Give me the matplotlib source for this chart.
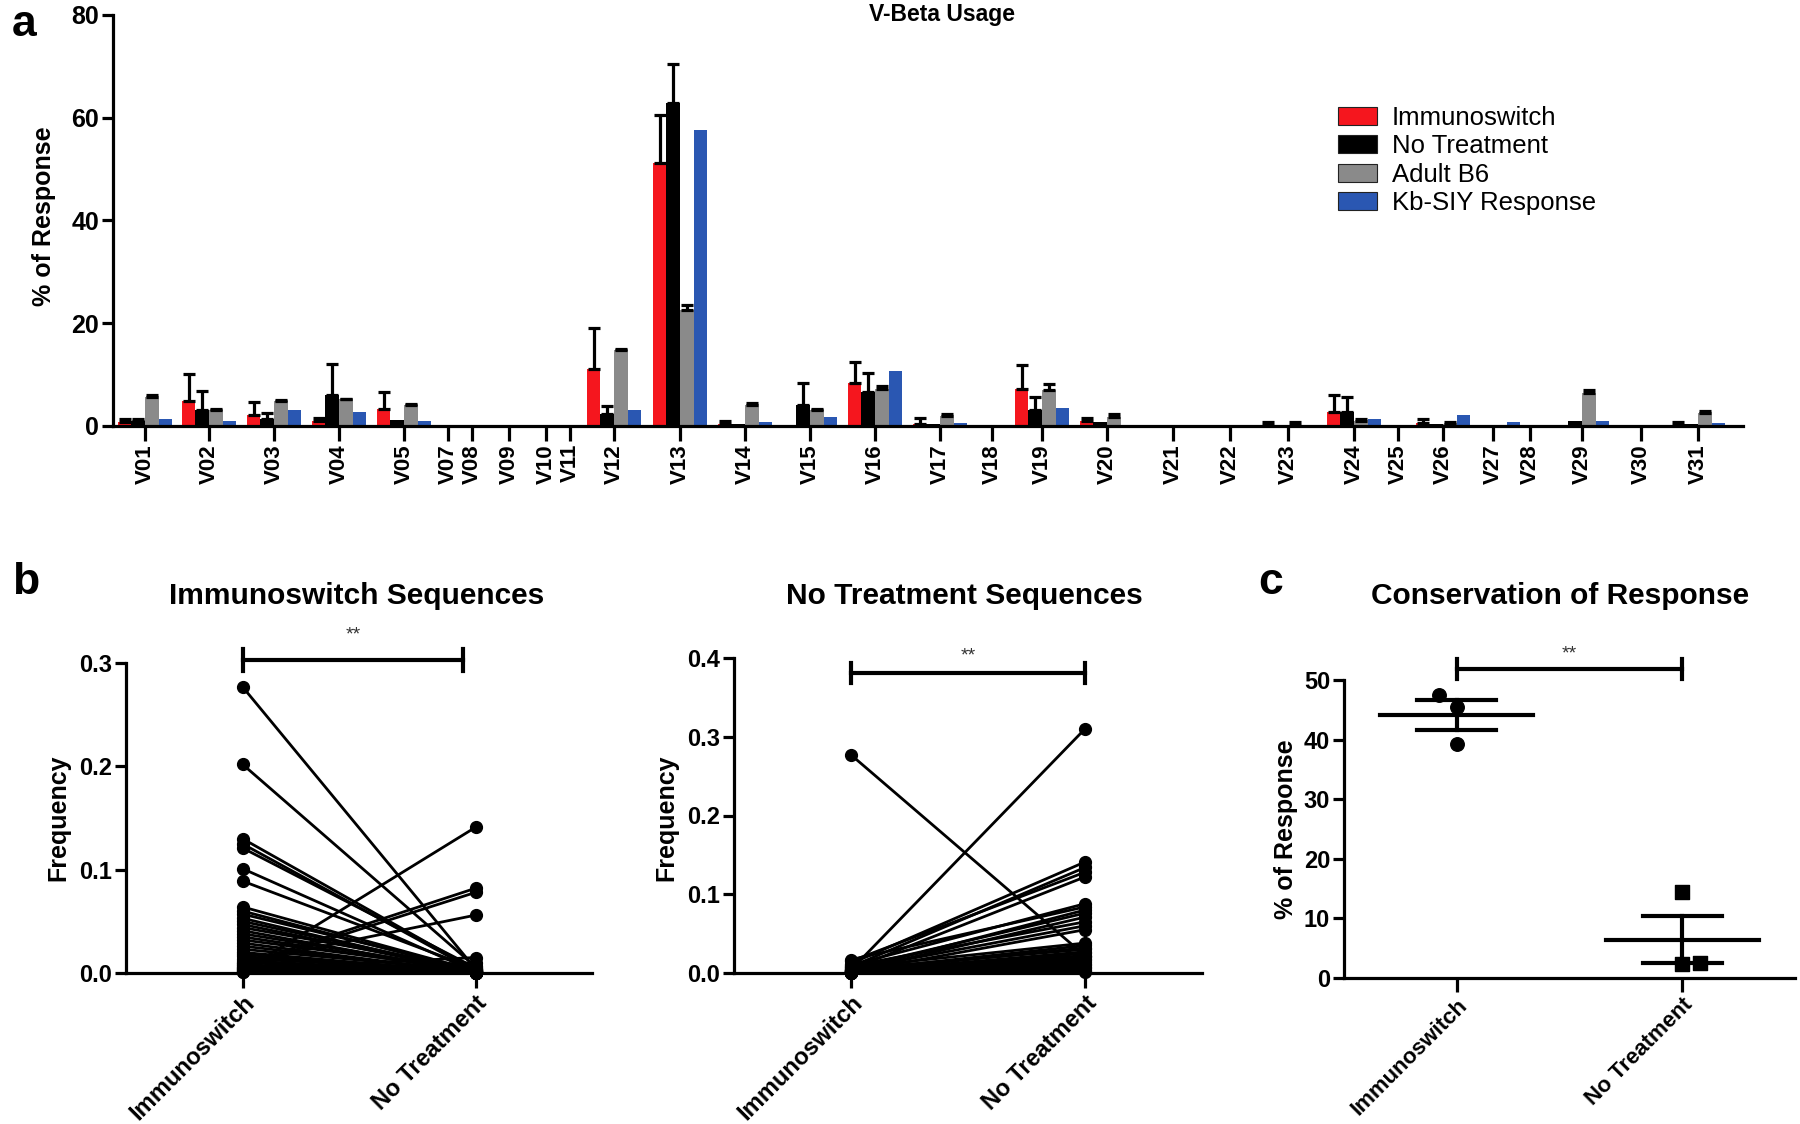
import numpy as np
import matplotlib
matplotlib.use('Agg')
import matplotlib.pyplot as plt
from matplotlib.patches import Patch

plt.rcParams['font.family'] = ['Liberation Sans', 'DejaVu Sans']

# ---------------- panel a: V-beta usage (% of response) ----------------
vbeta_labels = ['V01', 'V02', 'V03', 'V04', 'V05', 'V07', 'V08', 'V09', 'V10', 'V11',
                'V12', 'V13', 'V14', 'V15', 'V16', 'V17', 'V18', 'V19', 'V20', 'V21',
                'V22', 'V23', 'V24', 'V25', 'V26', 'V27', 'V28', 'V29', 'V30', 'V31']
immunoswitch = [0.7, 4.9, 2.1, 0.9, 3.4, 0, 0, 0, 0, 0,
                11.1, 51.2, 0.3, 0, 8.4, 0.3, 0, 7.2, 1.0, 0,
                0, 0.2, 2.8, 0, 0.5, 0, 0, 0, 0, 0.2]
immunoswitch_err = [0.6, 5.2, 2.5, 0.6, 3.2, 0, 0, 0, 0, 0,
                    7.9, 9.3, 0.6, 0, 4.0, 1.2, 0, 4.7, 0.5, 0,
                    0, 0.6, 3.2, 0, 0.9, 0, 0, 0, 0, 0.5]
no_treatment = [1.0, 3.1, 1.3, 6.0, 1.2, 0, 0, 0, 0, 0,
                2.3, 62.9, 0.3, 4.0, 6.7, 0.45, 0, 3.1, 0.8, 0,
                0, 0.2, 2.8, 0, 0.3, 0, 0, 1.0, 0, 0.3]
no_treatment_err = [0.3, 3.7, 1.3, 6.0, 0, 0, 0, 0, 0, 0,
                    1.5, 7.6, 0, 4.3, 3.7, 0, 0, 2.5, 0, 0,
                    0, 0, 2.9, 0, 0, 0, 0, 0, 0, 0]
adult_b6 = [5.7, 3.1, 4.9, 5.2, 4.1, 0, 0, 0, 0, 0,
            14.8, 22.5, 4.1, 3.2, 7.2, 1.9, 0, 7.1, 1.8, 0,
            0, 0.2, 1.0, 0, 0.3, 0, 0, 6.4, 0, 2.6]
adult_b6_err = [0.3, 0.2, 0.1, 0.1, 0.2, 0, 0, 0, 0, 0,
                0.1, 1.0, 0.3, 0.2, 0.5, 0.4, 0, 1.0, 0.5, 0,
                0, 0.5, 0.3, 0, 0.5, 0, 0, 0.7, 0, 0.4]
kb_siy = [1.3, 0.9, 3.2, 2.8, 1.0, 0, 0, 0, 0, 0,
          3.2, 57.7, 0.7, 1.8, 10.7, 0.65, 0, 3.6, 0, 0,
          0, 0, 1.3, 0, 2.1, 0.8, 0, 1.0, 0, 0.5]
series_names = ['Immunoswitch', 'No Treatment', 'Adult B6', 'Kb-SIY Response']

# ---------------- panel b: paired sequence frequencies ----------------
# Immunoswitch sequences: (frequency in Immunoswitch, frequency in No Treatment)
imm_seq_imm = [0.277, 0.202, 0.130, 0.125, 0.121, 0.101, 0.089, 0.064, 0.060, 0.057,
               0.053, 0.050, 0.047, 0.044, 0.041, 0.038, 0.035, 0.032, 0.029, 0.026,
               0.023, 0.020, 0.018, 0.016, 0.014, 0.012, 0.010, 0.008, 0.006, 0.004,
               0.003, 0.002, 0.001, 0.002, 0.008, 0.006, 0.010, 0.004, 0.001, 0.005]
imm_seq_nt = [0.004, 0.006, 0.003, 0.002, 0.005, 0.001, 0.004, 0.002, 0.001, 0.003,
              0.000, 0.002, 0.001, 0.004, 0.000, 0.002, 0.001, 0.003, 0.000, 0.001,
              0.002, 0.000, 0.001, 0.000, 0.002, 0.000, 0.001, 0.000, 0.000, 0.001,
              0.000, 0.000, 0.000, 0.141, 0.082, 0.078, 0.056, 0.015, 0.010, 0.007]
# No Treatment sequences
nt_seq_imm = [0.277, 0.004, 0.012, 0.008, 0.015, 0.005, 0.010, 0.017, 0.003, 0.006,
              0.002, 0.009, 0.004, 0.001, 0.007, 0.003, 0.002, 0.005, 0.001, 0.000,
              0.004, 0.002, 0.000, 0.003, 0.001, 0.000, 0.002, 0.000, 0.001, 0.000,
              0.000, 0.001]
nt_seq_nt = [0.022, 0.310, 0.141, 0.134, 0.128, 0.122, 0.088, 0.084, 0.080, 0.076,
             0.071, 0.065, 0.060, 0.055, 0.038, 0.035, 0.032, 0.030, 0.027, 0.025,
             0.022, 0.020, 0.018, 0.016, 0.014, 0.012, 0.010, 0.008, 0.006, 0.004,
             0.002, 0.001]
pair_labels = ['Immunoswitch', 'No Treatment']

# ---------------- panel c: conservation of response ----------------
cons_immunoswitch = [47.5, 45.5, 39.2]
cons_no_treatment = [14.4, 2.3, 2.6]
cons_jitter_imm = [-0.08, 0.0, 0.0]
cons_jitter_nt = [0.0, 0.0, 0.08]

# ---------------- layout ----------------
W, H = 1800, 1124
colors = ['#f5161e', '#000000', '#8a8a8a', '#2a57b2']
LW = 2.3
# group centres on panel a's x axis (irregular spacing as in the original)
group_x = [145, 209, 274, 339, 404, 448, 472, 509, 546, 570,
           614, 680, 745, 810, 875, 940, 992, 1042, 1107, 1173,
           1230, 1288, 1354, 1398, 1443, 1493, 1530, 1582, 1641, 1698]
bar_w = 13.6


def fig_rect(left, top, right, bottom):
    return [left / W, 1 - bottom / H, (right - left) / W, (bottom - top) / H]


def style(ax):
    for s in ['top', 'right']:
        ax.spines[s].set_visible(False)
    for s in ['left', 'bottom']:
        ax.spines[s].set_linewidth(LW)
    ax.tick_params(width=LW, length=8, pad=2)


fig = plt.figure(figsize=(W / 100, H / 100), dpi=100)

# ---- panel a
ax = fig.add_axes(fig_rect(113, 15, 1743, 426))
style(ax)
gx = np.array(group_x, dtype=float)
vals = [immunoswitch, no_treatment, adult_b6, kb_siy]
errs = [immunoswitch_err, no_treatment_err, adult_b6_err, None]
for i, (v, e) in enumerate(zip(vals, errs)):
    xs = gx + (i - 1.5) * bar_w
    ax.bar(xs, v, width=bar_w, color=colors[i], edgecolor='none', zorder=2)
    if e is not None:
        v = np.array(v)
        e = np.array(e)
        m = e > 0
        ax.errorbar(xs[m], v[m], yerr=[np.zeros(m.sum()), e[m]], fmt='none',
                    ecolor='black', elinewidth=LW, capsize=4, capthick=LW, zorder=3)
ax.set_xlim(113, 1743)
ax.set_ylim(0, 80)
ax.set_yticks([0, 20, 40, 60, 80])
ax.set_xticks(gx)
ax.set_xticklabels(vbeta_labels, rotation=90, fontsize=16, fontweight='bold')
ax.tick_params(axis='x', length=11)
for t in ax.get_yticklabels():
    t.set_fontsize(18)
    t.set_fontweight('bold')
handles = [Patch(facecolor=c, edgecolor='#222222', linewidth=0.8) for c in colors]
fig.legend(handles, series_names, loc='upper left',
           bbox_to_anchor=(1338 / W, 1 - 106 / H), frameon=False, fontsize=18.5,
           handlelength=1.5, handleheight=0.7, handletextpad=0.6,
           labelspacing=0.17, borderpad=0, borderaxespad=0)
fig.text(942 / W, 1 - 15 / H, 'V-Beta Usage', ha='center', va='center',
         fontsize=16.5, fontweight='bold')
fig.text(44 / W, 1 - 216 / H, '% of Response', rotation=90, ha='center',
         va='center', fontsize=18, fontweight='bold')
fig.text(12 / W, 1 - 4 / H, 'a', fontsize=32, fontweight='bold', va='top')


# ---- panel b
def paired(rect, a_vals, b_vals, ymax, yticks, bar_y, cap_h, star_y, bar_end,
           title, title_x):
    ax = fig.add_axes(fig_rect(*rect))
    style(ax)
    for a, b in zip(a_vals, b_vals):
        ax.plot([0, 1], [a, b], color='black', lw=2.0, marker='o', ms=8.5,
                clip_on=False, zorder=3)
    ax.set_xlim(-0.5, 1.5)
    ax.set_ylim(0, ymax)
    ax.set_yticks(yticks)
    ax.set_yticklabels(['%.1f' % t for t in yticks], fontsize=17, fontweight='bold')
    ax.set_xticks([0, 1])
    ax.set_xticklabels(pair_labels, rotation=45, ha='right', rotation_mode='anchor',
                       fontsize=17, fontweight='bold')
    ax.tick_params(axis='x', length=11)
    ax.plot([0, bar_end], [bar_y, bar_y], color='black', lw=3, clip_on=False)
    for xx in [0, bar_end]:
        ax.plot([xx, xx], [bar_y - cap_h, bar_y + cap_h], color='black', lw=3,
                clip_on=False)
    ax.text(0.5 * bar_end, star_y, '**', ha='center', va='center', fontsize=14,
            color='#333333')
    fig.text(title_x / W, 1 - 596 / H, title, ha='center', va='center',
             fontsize=21.5, fontweight='bold')
    fig.text((rect[0] - 68) / W, 1 - 818 / H, 'Frequency', rotation=90,
             ha='center', va='center', fontsize=18, fontweight='bold')
    return ax


paired((126, 663, 592, 973), imm_seq_imm, imm_seq_nt, 0.3, [0.0, 0.1, 0.2, 0.3],
       0.3027, 0.0105, 0.327, 0.947, 'Immunoswitch Sequences', 357)
paired((734, 658, 1202, 973), nt_seq_imm, nt_seq_nt, 0.4, [0.0, 0.1, 0.2, 0.3, 0.4],
       0.381, 0.013, 0.403, 1.0, 'No Treatment Sequences', 964)
fig.text(12 / W, 1 - 562 / H, 'b', fontsize=32, fontweight='bold', va='top')

# ---- panel c
ax = fig.add_axes(fig_rect(1344, 680, 1795, 978))
style(ax)
for k, (pts, jit, mk) in enumerate([(cons_immunoswitch, cons_jitter_imm, 'o'),
                                    (cons_no_treatment, cons_jitter_nt, 's')]):
    pts = np.array(pts)
    ax.scatter(k + np.array(jit), pts, marker=mk, s=95, color='black',
               clip_on=False, zorder=3)
    mean = pts.mean()
    sem = pts.std(ddof=1) / np.sqrt(len(pts))
    ax.plot([k - 0.34, k + 0.34], [mean, mean], color='black', lw=3)
    ax.plot([k, k], [mean - sem, mean + sem], color='black', lw=3)
    for y in [mean - sem, mean + sem]:
        ax.plot([k - 0.175, k + 0.175], [y, y], color='black', lw=3)
ax.set_xlim(-0.5, 1.5)
ax.set_ylim(0, 50)
ax.set_yticks([0, 10, 20, 30, 40, 50])
ax.set_yticklabels(['0', '10', '20', '30', '40', '50'], fontsize=17, fontweight='bold')
ax.set_xticks([0, 1])
ax.set_xticklabels(pair_labels, rotation=45, ha='right', rotation_mode='anchor',
                   fontsize=16, fontweight='bold')
ax.tick_params(axis='x', length=10)
ax.plot([0, 1], [51.9, 51.9], color='black', lw=3, clip_on=False)
for xx in [0, 1]:
    ax.plot([xx, xx], [50.1, 53.6], color='black', lw=3, clip_on=False)
ax.text(0.5, 54.3, '**', ha='center', va='center', fontsize=14, color='#333333')
fig.text(1560 / W, 1 - 596 / H, 'Conservation of Response', ha='center',
         va='center', fontsize=21.5, fontweight='bold')
fig.text(1286 / W, 1 - 829 / H, '% of Response', rotation=90, ha='center',
         va='center', fontsize=18, fontweight='bold')
fig.text(1258 / W, 1 - 562 / H, 'c', fontsize=32, fontweight='bold', va='top')

fig.savefig('out.png', dpi=100)
